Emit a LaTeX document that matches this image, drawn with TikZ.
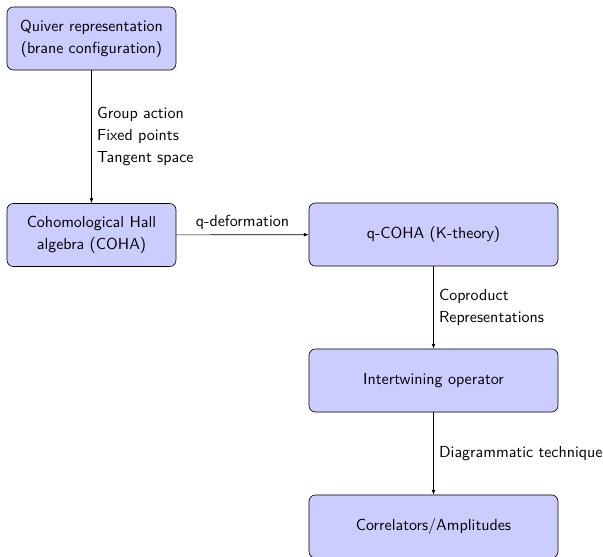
\documentclass[tikz,border=0pt]{standalone}
\usepackage{tikz}
\usetikzlibrary{arrows.meta}

\begin{document}
\begin{tikzpicture}[x=0.625pt,y=-0.625pt,
  box/.style={draw,rounded corners,fill=blue!20,align=center,font=\sffamily\fontsize{10}{13.8}\selectfont,minimum height=39.4pt},
  smallbox/.style={box,minimum width=105.6pt},
  widebox/.style={box,minimum width=155.6pt},
  lbl/.style={font=\sffamily\fontsize{10}{13.6}\selectfont,align=left}]

  \useasboundingbox (0,0) rectangle (603,557);

  % Specification of nodes (position, etc.)
  \node[smallbox] (quiver) at (91.5,38.5) {Quiver representation\\(brane configuration)};
  \node[smallbox] (coha) at (91.5,235) {Cohomological Hall\\algebra (COHA)};
  \node[widebox] (qcoha) at (433.5,234.5) {q-COHA (K-theory)};
  \node[widebox] (inter) at (433.5,380.5) {Intertwining operator};
  \node[widebox] (corr) at (433.5,526.5) {Correlators/Amplitudes};

  \begin{scope}[-{Latex[length=3pt,width=2.4pt]}]
    \draw (quiver) -- node[lbl,right] {Group action\\Fixed points\\Tangent space} (coha);
    \draw (coha) -- node[lbl,above] {q-deformation} (qcoha);
    \draw (qcoha) -- node[lbl,right] {Coproduct\\Representations} (inter);
    \draw (inter) -- node[lbl,right] {Diagrammatic technique} (corr);
  \end{scope}

\end{tikzpicture}
\end{document}
